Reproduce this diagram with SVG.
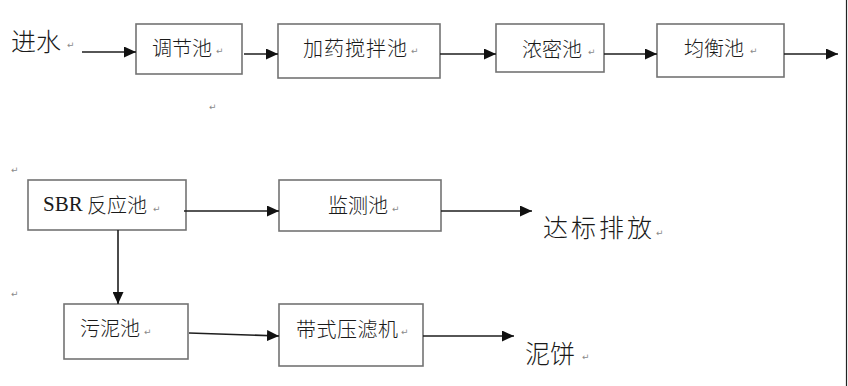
<svg xmlns="http://www.w3.org/2000/svg" width="848" height="386" viewBox="0 0 848 386">
<style>
.box{fill:#fff;stroke:#737373;stroke-width:1.6}
.t{font-family:"Noto Sans CJK SC","Noto Sans CJK JP",sans-serif;font-size:20px;fill:#1a1a1a;dominant-baseline:central;font-weight:300}
.big{font-size:25px}
.lat{font-family:"Liberation Serif","Noto Sans CJK SC",serif}
.rt{font-family:"DejaVu Sans",sans-serif;font-size:9px;fill:#8a8a8a}
.c{fill:none;stroke:#1e1e1e;stroke-width:1.6}
</style>
<defs>
<marker id="ah" markerUnits="userSpaceOnUse" markerWidth="12" markerHeight="11" refX="12" refY="5.5" orient="auto">
<path d="M0,0 L12,5.5 L0,11 z" fill="#111"/>
</marker>
</defs>
<rect width="848" height="386" fill="#fff"/>
<line x1="846.5" y1="0" x2="846.5" y2="386" stroke="#222" stroke-width="1.2"/>

<g id="in"><text class="t big" x="11" y="40">进水</text><text class="rt" x="67" y="48">↵</text></g>
<g id="n1"><rect class="box" x="136" y="24" width="106" height="50"/><text class="t" x="152" y="47">调节池</text><text class="rt" x="216" y="54">↵</text></g>
<g id="n2"><rect class="box" x="278" y="24" width="162" height="54"/><text class="t" x="303" y="47.5" textLength="104">加药搅拌池</text><text class="rt" x="411" y="54">↵</text></g>
<g id="n3"><rect class="box" x="496" y="24" width="108" height="48"/><text class="t" x="522" y="48">浓密池</text><text class="rt" x="588" y="55">↵</text></g>
<g id="n4"><rect class="box" x="657" y="24" width="127" height="53"/><text class="t" x="684" y="47.5">均衡池</text><text class="rt" x="750" y="54">↵</text></g>
<g id="n5"><rect class="box" x="28" y="180" width="158" height="50"/><text class="t" x="43" y="204"><tspan class="lat" font-size="21">SBR</tspan> 反应池</text><text class="rt" x="153" y="212">↵</text></g>
<g id="n6"><rect class="box" x="279" y="180" width="162" height="51"/><text class="t" x="328" y="204">监测池</text><text class="rt" x="392" y="212">↵</text></g>
<g id="n7"><rect class="box" x="64" y="304" width="124" height="55"/><text class="t" x="80" y="327.5">污泥池</text><text class="rt" x="144" y="335">↵</text></g>
<g id="n8"><rect class="box" x="279" y="304" width="144" height="62"/><text class="t" x="296" y="328" textLength="102">带式压滤机</text><text class="rt" x="401" y="335">↵</text></g>
<g id="out1"><text class="t big" x="543" y="226" font-size="27" textLength="109">达标排放</text><text class="rt" x="656" y="236">↵</text></g>
<g id="out2"><text class="t big" x="525" y="351.5" font-size="26">泥饼</text><text class="rt" x="582" y="360">↵</text></g>
<g id="marks"><text class="rt" x="209" y="110">↵</text><text class="rt" x="11" y="173">↵</text><text class="rt" x="11" y="297">↵</text></g>

<g id="connectors">
<line class="c" x1="82" y1="52" x2="136" y2="52" marker-end="url(#ah)"/>
<line class="c" x1="244" y1="54" x2="278" y2="54" marker-end="url(#ah)"/>
<line class="c" x1="440" y1="54" x2="496" y2="54" marker-end="url(#ah)"/>
<line class="c" x1="604" y1="54" x2="657" y2="54" marker-end="url(#ah)"/>
<line class="c" x1="784" y1="54" x2="838" y2="54" marker-end="url(#ah)"/>
<line class="c" x1="184" y1="211" x2="279" y2="211" marker-end="url(#ah)"/>
<line class="c" x1="441" y1="211" x2="532" y2="211" marker-end="url(#ah)"/>
<line class="c" x1="118" y1="230" x2="118" y2="304" marker-end="url(#ah)"/>
<line class="c" x1="189" y1="333" x2="279" y2="336" marker-end="url(#ah)"/>
<line class="c" x1="423" y1="336" x2="514" y2="336" marker-end="url(#ah)"/>
</g>
</svg>
